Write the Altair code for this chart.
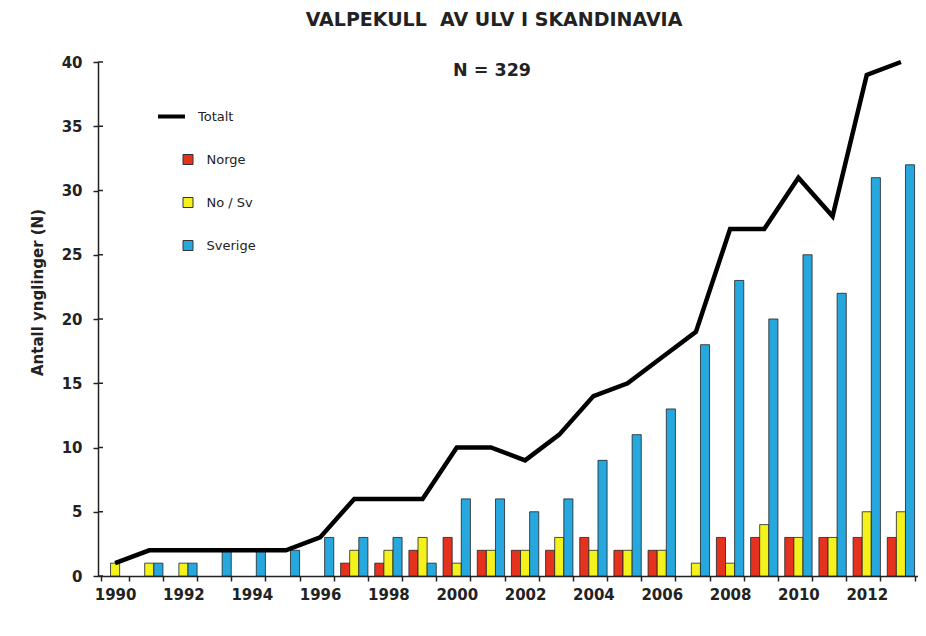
import altair as alt
import pandas as pd

years = list(range(1990, 2014))
norge = [0, 0, 0, 0, 0, 0, 0, 1, 1, 2, 3, 2, 2, 2, 3, 2, 2, 0, 3, 3, 3, 3, 3, 3]
nosv = [1, 1, 1, 0, 0, 0, 0, 2, 2, 3, 1, 2, 2, 3, 2, 2, 2, 1, 1, 4, 3, 3, 5, 5]
sverige = [0, 1, 1, 2, 2, 2, 3, 3, 3, 1, 6, 6, 5, 6, 9, 11, 13, 18, 23, 20, 25, 22, 31, 32]
totalt = [1, 2, 2, 2, 2, 2, 3, 6, 6, 6, 10, 10, 9, 11, 14, 15, 17, 19, 27, 27, 31, 28, 39, 40]
series_names = ["Norge", "No / Sv", "Sverige"]
series_colors = ["#E4321E", "#F4F21C", "#26A8DE"]
y_ticks = [0, 5, 10, 15, 20, 25, 30, 35, 40]

rows = []
for i, yr in enumerate(years):
    for name, vals in zip(series_names, [norge, nosv, sverige]):
        if vals[i] > 0:
            rows.append({"year": yr, "series": name, "value": vals[i]})
bars_df = pd.DataFrame(rows)
tot_df = pd.DataFrame({"year": years, "total": totalt})
tick_df = pd.DataFrame({"v": y_ticks})

FONT = "DejaVu Sans"

xscale = alt.Scale(type="band", domain=years, paddingInner=0.2, paddingOuter=0.1)
yscale = alt.Scale(domain=[0, 40], nice=False)

xaxis = alt.Axis(
    title=None, labelAngle=0, tickBand="extent",
    labelExpr="datum.value % 2 == 0 ? datum.label : ''",
    labelFont=FONT, labelFontSize=15, labelFontWeight="bold", labelColor="#222",
    labelPadding=6, tickSize=5, tickColor="#222", domainColor="#222",
    domainWidth=1.5, tickWidth=1.5, grid=False,
)
yaxis = alt.Axis(
    title="Antall ynglinger (N)", values=y_ticks,
    titleFont=FONT, titleFontSize=15, titleFontWeight="bold", titleColor="#222",
    titlePadding=16, titleY=230,
    labelFont=FONT, labelFontSize=15, labelFontWeight="bold", labelColor="#222",
    labelPadding=11, tickSize=5, tickColor="#222", domainColor="#222",
    domainWidth=1.5, tickWidth=1.5, grid=False,
)

bars = alt.Chart(bars_df).mark_bar(stroke="#222", strokeWidth=0.8).encode(
    x=alt.X("year:O", scale=xscale, axis=xaxis),
    xOffset=alt.XOffset("series:N", scale=alt.Scale(domain=series_names, paddingInner=0, paddingOuter=0)),
    y=alt.Y("value:Q", scale=yscale, axis=yaxis),
    color=alt.Color(
        "series:N",
        scale=alt.Scale(domain=series_names, range=series_colors),
        legend=alt.Legend(
            orient="none", legendX=83.5, legendY=91, title=None, padding=0,
            symbolType="square", symbolSize=100, symbolStrokeColor="#333",
            symbolStrokeWidth=1, rowPadding=28, labelFont=FONT, labelFontSize=13,
            labelColor="#222", labelOffset=12,
        ),
    ),
)

line = alt.Chart(tot_df).transform_calculate(lab="'Totalt'").mark_line(
    strokeWidth=4.5, strokeJoin="miter"
).encode(
    x=alt.X("year:O", scale=xscale, axis=xaxis),
    y=alt.Y("total:Q", scale=yscale, axis=yaxis),
    stroke=alt.Stroke(
        "lab:N",
        scale=alt.Scale(domain=["Totalt"], range=["black"]),
        legend=alt.Legend(
            orient="none", legendX=58, legendY=39, title=None, padding=0,
            symbolType="stroke", symbolSize=729, symbolStrokeWidth=4,
            labelFont=FONT, labelFontSize=13, labelColor="#222", labelOffset=11,
        ),
    ),
)

inner_ticks = alt.Chart(tick_df).mark_rule(color="#222", strokeWidth=1.5).encode(
    y=alt.Y("v:Q", scale=yscale, axis=yaxis),
    x=alt.value(0),
    x2=alt.value(5),
)

ntext = alt.Chart(tot_df.head(1)).mark_text(
    text="N = 329", font=FONT, fontSize=17.5, fontWeight="bold", color="#222",
    baseline="middle", align="center",
).encode(x=alt.value(394), y=alt.value(9))

chart = alt.layer(bars, line, inner_ticks, ntext).properties(
    width=820,
    height=514,
    background="white",
    autosize=alt.AutoSizeParams(type="none"),
    padding={"left": 90, "top": 54, "right": 0, "bottom": 50},
    title=alt.TitleParams(
        "VALPEKULL\u00a0 AV ULV I SKANDINAVIA", font=FONT, fontSize=19,
        fontWeight="bold", color="#222", anchor="middle", dx=-14, offset=23,
    ),
).configure_view(stroke=None, strokeWidth=0)

chart.save("out.html", embed_options={"renderer": "svg", "actions": False})
